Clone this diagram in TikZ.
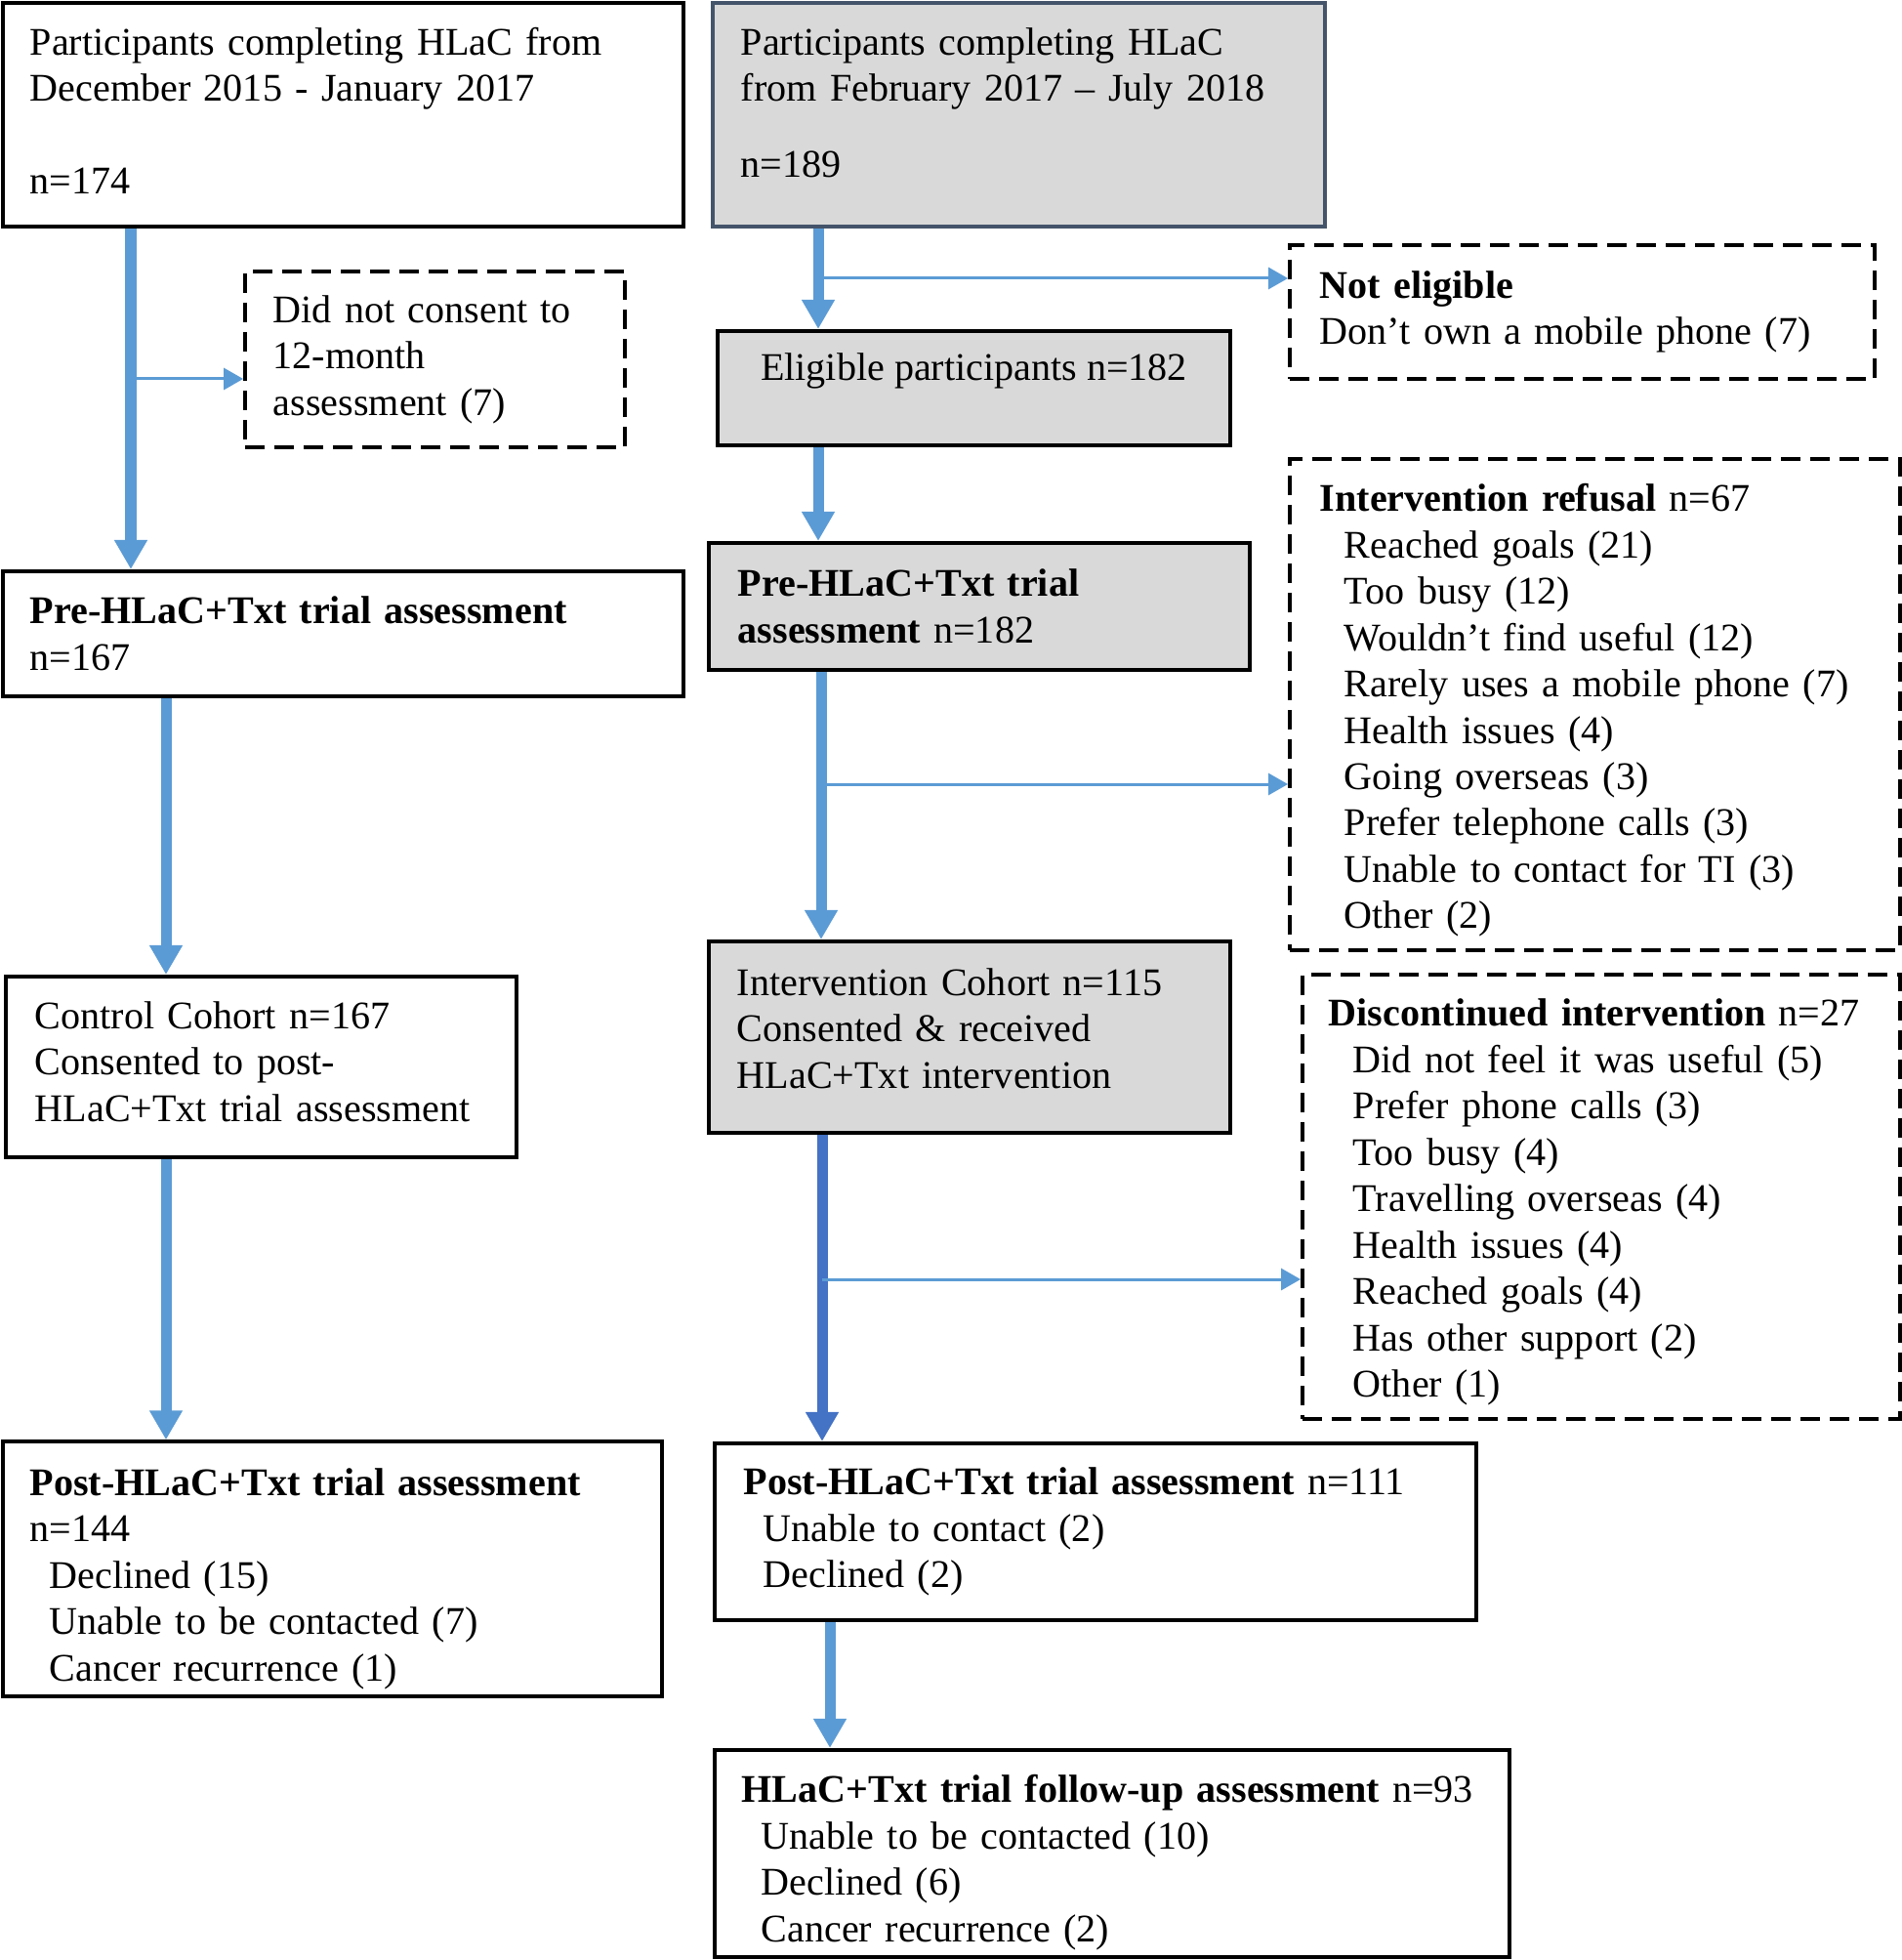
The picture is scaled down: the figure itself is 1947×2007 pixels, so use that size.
\documentclass[tikz,border=0pt]{standalone}
\usepackage{fontspec}
\setmainfont{Liberation Serif}
\usetikzlibrary{arrows.meta,calc}
\definecolor{arrowblue}{HTML}{5B9BD5}
\definecolor{arrowdark}{HTML}{4472C4}
\definecolor{boxgray}{HTML}{D9D9D9}
\definecolor{slateborder}{HTML}{44546A}
\newcommand{\myindent}{\hspace*{0.25cm}}
\newcommand{\myindentb}{\hspace*{0.2cm}}
\begin{document}
\begin{tikzpicture}[x=0.01cm,y=-0.01cm,
  txt/.style={font=\fontsize{11.4}{13.5}\selectfont, inner ysep=2pt, inner xsep=0pt, align=left},
  solidbox/.style={txt, draw=black, line width=0.04cm},
  graybox/.style={solidbox, fill=boxgray},
  dashbox/.style={txt, draw=black, line width=0.035cm, dash pattern=on 0.2cm off 0.1cm},
  mainarrow/.style={draw=arrowblue, line width=0.11cm, -{Triangle[width=0.32cm,length=0.30cm]}},
  darkarrow/.style={mainarrow, draw=arrowdark},
  brancharrow/.style={draw=arrowblue, line width=0.03cm, -{Triangle[width=0.22cm,length=0.2cm]}}
]
\useasboundingbox (0,0) rectangle (1947,2007);

% ---- boxes ----
\node[solidbox, minimum width=6.97cm, minimum height=2.29cm, text width=6.41cm, text height=5.6pt] (A) at (351.5,117.5)
  {Participants completing HLaC from\\December 2015 - January 2017\\[13.5pt]n=174};
\node[graybox, draw=slateborder, minimum width=6.27cm, minimum height=2.29cm, text width=5.69cm, text depth=42.7pt] (B) at (1043.5,117.5)
  {Participants completing HLaC\\from February 2017 – July 2018\\[8.5pt]n=189};
\node[dashbox, minimum width=3.89cm, minimum height=1.80cm, text width=3.31cm] (DNC) at (445.5,368)
  {Did not consent to\\12-month\\assessment (7)};
\node[dashbox, minimum width=5.99cm, minimum height=1.37cm, text width=5.37cm] (NE) at (1620.5,319.5)
  {\textbf{Not eligible}\\Don’t own a mobile phone (7)};
\node[graybox, minimum width=5.25cm, minimum height=1.17cm, align=center, text depth=12.2pt] (EL) at (997.5,397.5)
  {Eligible participants n=182};
\node[solidbox, minimum width=6.97cm, minimum height=1.28cm, text width=6.41cm] (PL) at (351.5,649)
  {\textbf{Pre-HLaC+Txt trial assessment}\\n=167};
\node[graybox, minimum width=5.54cm, minimum height=1.30cm, text width=4.94cm] (PM) at (1003,621)
  {\textbf{Pre-HLaC+Txt trial}\\\textbf{assessment} n=182};
\node[dashbox, minimum width=6.25cm, minimum height=5.03cm, text width=5.63cm, text height=11.4pt] (REF) at (1633.5,721.5)
  {\textbf{Intervention refusal} n=67\\
   \myindent Reached goals (21)\\
   \myindent Too busy (12)\\
   \myindent Wouldn’t find useful (12)\\
   \myindent Rarely uses a mobile phone (7)\\
   \myindent Health issues (4)\\
   \myindent Going overseas (3)\\
   \myindent Prefer telephone calls (3)\\
   \myindent Unable to contact for TI (3)\\
   \myindent Other (2)};
\node[solidbox, minimum width=5.23cm, minimum height=1.85cm, text width=4.63cm, text height=4.8pt] (CC) at (267.5,1092.5)
  {Control Cohort n=167\\Consented to post-\\\mbox{HLaC+Txt trial assessment}};
\node[graybox, minimum width=5.34cm, minimum height=1.96cm, text width=4.76cm, text height=2.8pt] (IC) at (993,1062)
  {Intervention Cohort n=115\\Consented \& received\\HLaC+Txt intervention};
\node[dashbox, minimum width=6.12cm, minimum height=4.55cm, text width=5.58cm, text height=11pt] (DIS) at (1640,1225.5)
  {\mbox{\textbf{Discontinued intervention} n=27}\\
   \myindent Did not feel it was useful (5)\\
   \myindent Prefer phone calls (3)\\
   \myindent Too busy (4)\\
   \myindent Travelling overseas (4)\\
   \myindent Health issues (4)\\
   \myindent Reached goals (4)\\
   \myindent Has other support (2)\\
   \myindent Other (1)};
\node[solidbox, minimum width=6.75cm, minimum height=2.59cm, text width=6.19cm, text height=13.6pt] (POL) at (340.5,1606.5)
  {\textbf{Post-HLaC+Txt trial assessment}\\n=144\\
   \myindentb Declined (15)\\
   \myindentb Unable to be contacted (7)\\
   \myindentb Cancer recurrence (1)};
\node[solidbox, minimum width=7.80cm, minimum height=1.81cm, text width=7.20cm] (POM) at (1122,1568.5)
  {\textbf{Post-HLaC+Txt trial assessment} n=111\\
   \myindentb Unable to contact (2)\\
   \myindentb Declined (2)};
\node[solidbox, minimum width=8.14cm, minimum height=2.12cm, text width=7.58cm, text height=13.2pt] (FU) at (1139,1898)
  {\mbox{\textbf{HLaC+Txt trial follow-up assessment} n=93}\\
   \myindentb Unable to be contacted (10)\\
   \myindentb Declined (6)\\
   \myindentb Cancer recurrence (2)};

% ---- column coordinates ----
\coordinate (cL1) at (134,0);
\coordinate (cL2) at (170,0);
\coordinate (cM1) at (838,0);
\coordinate (cM3) at (841,0);
\coordinate (cM4) at (842,0);
\coordinate (cM5) at (850,0);
\coordinate (bDNC) at (134,388);
\coordinate (bNE) at (838,285);
\coordinate (bREF) at (841,803);
\coordinate (bDIS) at (842,1310);

% ---- connectors ----
\draw[mainarrow] (A.south -| cL1) -- (PL.north -| cL1);
\draw[mainarrow] (PL.south -| cL2) -- (CC.north -| cL2);
\draw[mainarrow] (CC.south -| cL2) -- (POL.north -| cL2);
\draw[mainarrow] (B.south -| cM1) -- (EL.north -| cM1);
\draw[mainarrow] (EL.south -| cM1) -- (PM.north -| cM1);
\draw[mainarrow] (PM.south -| cM3) -- (IC.north -| cM3);
\draw[darkarrow] (IC.south -| cM4) -- (POM.north -| cM4);
\draw[mainarrow] (POM.south -| cM5) -- (FU.north -| cM5);

\draw[brancharrow] (bDNC) -- (bDNC -| DNC.west);
\draw[brancharrow] (bNE) -- (bNE -| NE.west);
\draw[brancharrow] (bREF) -- (bREF -| REF.west);
\draw[brancharrow] (bDIS) -- (bDIS -| DIS.west);
\end{tikzpicture}
\end{document}
